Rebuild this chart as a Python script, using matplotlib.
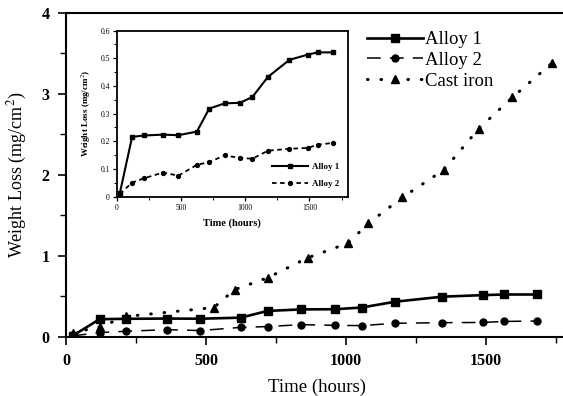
import numpy as np
import matplotlib
matplotlib.use("Agg")
import matplotlib.pyplot as plt
from matplotlib.ticker import MultipleLocator

plt.rcParams["font.family"] = ["Liberation Serif", "DejaVu Serif"]
plt.rcParams["mathtext.fontset"] = "stix"

# datos
hours = [24, 120, 216, 360, 480, 624, 720, 840, 960, 1056, 1176, 1344, 1488, 1564, 1683]
alloy1 = [0.012, 0.216, 0.221, 0.224, 0.222, 0.235, 0.318, 0.337, 0.339, 0.36,
          0.432, 0.494, 0.513, 0.521, 0.521]
alloy2 = [0.01, 0.051, 0.067, 0.087, 0.076, 0.115, 0.125, 0.149, 0.14, 0.137,
          0.166, 0.173, 0.176, 0.188, 0.194]

cast_hours = [24, 120, 216, 528, 602, 722, 864, 1008, 1080, 1202, 1350, 1475, 1595, 1735]
cast_iron = [0.05, 0.12, 0.25, 0.36, 0.58, 0.73, 0.975, 1.155, 1.40, 1.72, 2.06,
             2.57, 2.955, 3.375]

fig = plt.figure(figsize=(5.63, 3.96), dpi=100)

# grafica principal
ax = fig.add_axes([66 / 563, 59.3 / 396, 0.890, 324 / 396])
ax.plot(hours, alloy1, color="black", lw=1.9, marker="s", ms=6, label="Alloy 1")
ax.plot(hours, alloy2, color="black", lw=1.1, marker="o", ms=5, dashes=(9, 6), label="Alloy 2")
ax.plot(cast_hours, cast_iron, color="black", lw=2.2, marker="^", ms=5.5,
        dashes=(0.2, 4.2), dash_capstyle="round", label="Cast iron")

ax.set_xlim(0, 1790)
ax.set_ylim(0, 4)
ax.xaxis.set_major_locator(MultipleLocator(500))
ax.xaxis.set_minor_locator(MultipleLocator(250))
ax.yaxis.set_major_locator(MultipleLocator(1))
ax.yaxis.set_minor_locator(MultipleLocator(0.5))
ax.tick_params(which="major", length=6, width=1.2, labelsize=11.5, pad=6)
ax.tick_params(which="minor", length=4, width=1.0)
for lbl in ax.get_xticklabels() + ax.get_yticklabels():
    lbl.set_fontweight("bold")
for s in ax.spines.values():
    s.set_linewidth(1.5)

ax.set_xlabel("Time (hours)", fontsize=13.5, labelpad=7)
ax.set_ylabel("Weight Loss (mg/cm$^2$)", fontsize=13, labelpad=9)

ax.legend(loc="upper left", bbox_to_anchor=(367 / 563, 1 - 31 / 396),
          bbox_transform=fig.transFigure, frameon=False, fontsize=13.5,
          handlelength=3.0, handletextpad=0.1, labelspacing=0.2, borderpad=0,
          borderaxespad=0)

# grafica interior
ins = fig.add_axes([116.7 / 563, 199.3 / 396, 231.3 / 563, 166.2 / 396])
ins.plot(hours, alloy1, color="black", lw=1.5, marker="s", ms=2.8, label="Alloy 1")
ins.plot(hours, alloy2, color="black", lw=1.3, marker="o", ms=2.8, dashes=(2.5, 2),
         label="Alloy 2")
ins.set_xlim(0, 1800)
ins.set_ylim(0, 0.6)
ins.xaxis.set_major_locator(MultipleLocator(500))
ins.xaxis.set_minor_locator(MultipleLocator(250))
ins.yaxis.set_minor_locator(MultipleLocator(0.05))
ins.set_yticks([0, 0.1, 0.2, 0.3, 0.4, 0.5, 0.6])
ins.set_yticklabels(["0", "0.1", "0.2", "0.3", "0.4", "0.5", "0.6"])
ins.tick_params(which="major", length=3, width=0.9, labelsize=5.5, pad=2)
ins.tick_params(which="minor", length=2, width=0.7)
for s in ins.spines.values():
    s.set_linewidth(1.3)
ins.set_xlabel("Time (hours)", fontsize=7.5, fontweight="bold", labelpad=5)
ins.set_ylabel("Weight Loss (mg/cm$^2$)", fontsize=6.5, fontweight="bold", labelpad=5)
ins.legend(loc="lower right", frameon=False, prop={"weight": "bold", "size": 6.5},
           handlelength=4.0, handletextpad=0.4, labelspacing=0.9, borderaxespad=0.6)

fig.savefig("out.png", dpi=100)
